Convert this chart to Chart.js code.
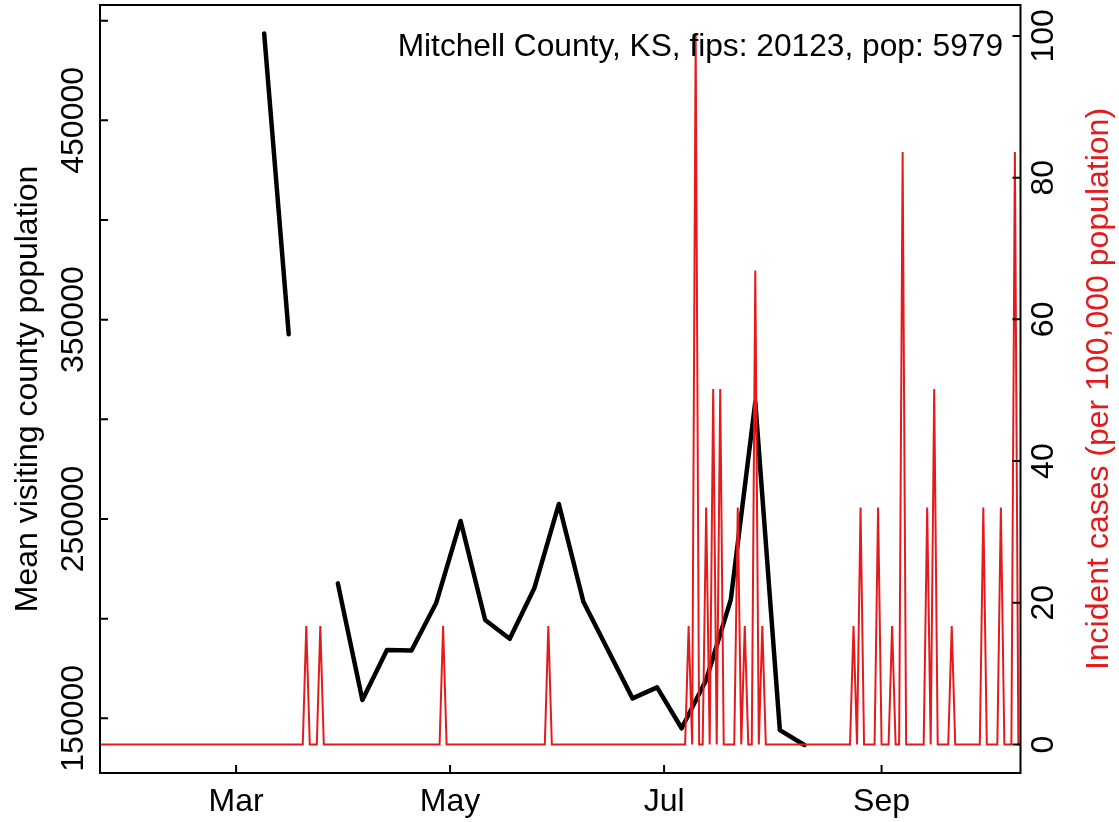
<!DOCTYPE html>
<html>
<head>
<meta charset="utf-8">
<script src="https://cdn.jsdelivr.net/npm/chart.js@4/dist/chart.umd.min.js"></script>
<style>
  html, body { margin: 0; padding: 0; background: #fff; }
  #wrap { width: 1119px; height: 822px; position: relative; }
</style>
</head>
<body>
<div id="wrap"><canvas id="c"></canvas></div>
<script>
// ---- data (day-of-year 2020, Jan 1 = 1) ----
const countyTitle = "Mitchell County, KS, fips: 20123, pop: 5979";
const population = 5979;

// weekly mean visiting county population (null = missing week)
const weekDays = [69, 76, 83, 90, 97, 104, 111, 118, 125, 132, 139, 146, 153, 160, 167, 174, 181, 188, 195, 202, 209, 216, 223];
const visitPop = [493600, 342700, null, 217700, 159200, 184300, 184000, 207700, 249000, 199300, 189900, 215200, 257500, 208500, 184300, 160000, 165500, 145000, 169200, 209400, 308700, 144100, 136600];

// daily incident cases: first/last day of the daily series, and days with cases
const caseFirstDay = 22;
const caseLastDay = 285;
const caseDays   = [81, 85, 120, 150, 190, 192, 195, 197, 199, 204, 206, 209, 211, 237, 239, 244, 248, 251, 258, 260, 265, 274, 279, 283];
const caseCounts = [1,  1,  1,   1,   1,   6,   2,   3,   3,   2,   1,   4,   1,   1,   2,   2,   1,   5,   2,   3,   1,   2,   2,   5];

// axis ticks
const monthTickDays = [61, 122, 183, 245];
const monthTickLabels = ["Mar", "May", "Jul", "Sep"];
const leftTicks = [150000, 200000, 250000, 300000, 350000, 400000, 450000, 500000];
const leftTickLabels = ["150000", "", "250000", "", "350000", "", "450000", ""];
const rightTicks = [0, 20, 40, 60, 80, 100];
const rightTickLabels = ["0", "20", "40", "60", "80", "100"];

const leftTitle = "Mean visiting county population";
const rightTitle = "Incident cases (per 100,000 population)";

// ---- build series ----
const dailyCases = [];
for (let d = caseFirstDay; d <= caseLastDay; d++) {
  const k = caseDays.indexOf(d);
  const c = k >= 0 ? caseCounts[k] : 0;
  dailyCases.push({ x: d, y: c / population * 100000 });
}
const visitSeries = weekDays.map((d, i) => ({ x: d, y: visitPop[i] }));

const FONT = '"Liberation Sans", Arial, Helvetica, sans-serif';
const FS = 32;
const RED = '#E41A1C';

const rPlot = {
  id: 'rPlot',
  afterDraw(chart) {
    const { ctx, chartArea: a, scales } = chart;
    const TL = 8;
    ctx.save();
    ctx.strokeStyle = '#000';
    ctx.lineWidth = 2;
    ctx.strokeRect(a.left, a.top, a.right - a.left, a.bottom - a.top);
    ctx.beginPath();
    scales.x.ticks.forEach(t => {
      const p = scales.x.getPixelForValue(t.value);
      ctx.moveTo(p, a.bottom); ctx.lineTo(p, a.bottom - TL);
    });
    scales.yL.ticks.forEach(t => {
      const p = scales.yL.getPixelForValue(t.value);
      ctx.moveTo(a.left, p); ctx.lineTo(a.left + TL, p);
    });
    scales.yR.ticks.forEach(t => {
      const p = scales.yR.getPixelForValue(t.value);
      ctx.moveTo(a.right, p); ctx.lineTo(a.right - TL, p);
    });
    ctx.stroke();

    ctx.font = FS + 'px ' + FONT;
    ctx.fillStyle = '#000';
    ctx.textAlign = 'center';
    ctx.textBaseline = 'alphabetic';
    // x labels
    scales.x.ticks.forEach((t, i) => {
      const p = scales.x.getPixelForValue(t.value);
      ctx.fillText(monthTickLabels[i], p, 811);
    });
    // rotated labels
    const rot = (txt, x, y) => {
      ctx.save(); ctx.translate(x, y); ctx.rotate(-Math.PI / 2);
      ctx.fillText(txt, 0, 0); ctx.restore();
    };
    scales.yL.ticks.forEach((t, i) => {
      const p = scales.yL.getPixelForValue(t.value);
      if (leftTickLabels[i]) rot(leftTickLabels[i], 83, p);
    });
    scales.yR.ticks.forEach((t, i) => {
      const p = scales.yR.getPixelForValue(t.value);
      rot(rightTickLabels[i], 1053, p);
    });
    const midY = (a.top + a.bottom) / 2;
    rot(leftTitle, 37, midY);
    ctx.fillStyle = RED;
    rot(rightTitle, 1108, midY);
    // county title
    ctx.fillStyle = '#000';
    ctx.textAlign = 'right';
    ctx.font = '31.7px ' + FONT;
    ctx.fillText(countyTitle, 1003, 56);
    ctx.restore();
  }
};

new Chart(document.getElementById('c'), {
  type: 'line',
  data: {
    datasets: [
      { label: 'cases', data: dailyCases, yAxisID: 'yR', borderColor: RED, borderWidth: 2,
        pointRadius: 0, tension: 0, fill: false },
      { label: 'visit', data: visitSeries, yAxisID: 'yL', borderColor: '#000', borderWidth: 4.5,
        pointRadius: 0, tension: 0, fill: false, spanGaps: false, borderCapStyle: 'round', borderJoinStyle: 'round' }
    ]
  },
  plugins: [rPlot],
  options: {
    responsive: true,
    maintainAspectRatio: false,
    animation: false,
    events: [],
    layout: { padding: { top: 5, left: 0, right: 0, bottom: 0 } },
    plugins: { legend: { display: false }, tooltip: { enabled: false }, title: { display: false } },
    scales: {
      x: {
        type: 'linear', position: 'bottom', min: 22.2, max: 284.6,
        afterBuildTicks: s => { s.ticks = monthTickDays.map(v => ({ value: v })); },
        ticks: { display: false }, grid: { display: false }, border: { display: false },
        afterFit: s => { s.height = 49; }
      },
      yL: {
        type: 'linear', position: 'left', min: 122557, max: 507863,
        afterBuildTicks: s => { s.ticks = leftTicks.map(v => ({ value: v })); },
        ticks: { display: false }, grid: { display: false }, border: { display: false },
        afterFit: s => { s.width = 100; }
      },
      yR: {
        type: 'linear', position: 'right', min: -4.014, max: 104.36,
        afterBuildTicks: s => { s.ticks = rightTicks.map(v => ({ value: v })); },
        ticks: { display: false }, grid: { display: false }, border: { display: false },
        afterFit: s => { s.width = 98.5; }
      }
    }
  }
});
</script>
</body>
</html>
